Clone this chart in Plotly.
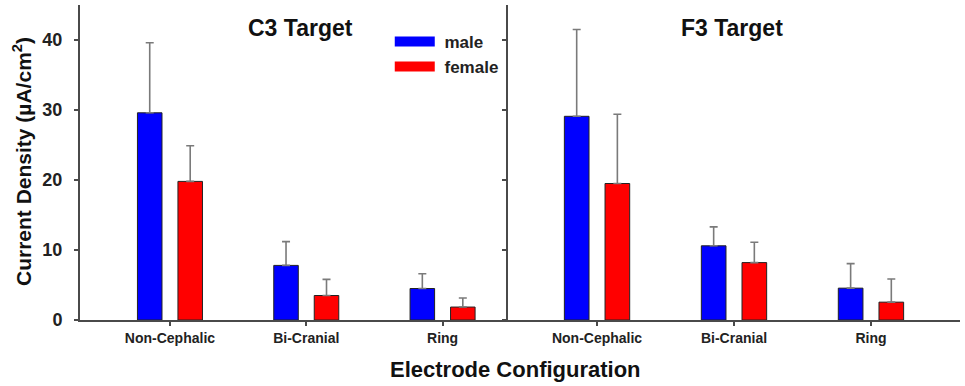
import plotly.graph_objects as go

categories = ["Non-Cephalic", "Bi-Cranial", "Ring"]
c3_male = [29.6, 7.8, 4.5]
c3_male_err = [10.0, 3.4, 2.1]
c3_female = [19.8, 3.5, 1.85]
c3_female_err = [5.1, 2.3, 1.3]
f3_male = [29.1, 10.6, 4.55]
f3_male_err = [12.4, 2.7, 3.5]
f3_female = [19.5, 8.2, 2.55]
f3_female_err = [9.9, 2.9, 3.3]
y_ticks = [0, 10, 20, 30, 40]

BLUE = "#0000FF"
RED = "#FF0000"
ERR = "#7a7a7a"
AX = "#4a4a4a"
FONT = "Liberation Sans, Arial, sans-serif"

fig = go.Figure()

def add_bar(y, err, color, xa, ya):
    fig.add_trace(go.Bar(
        x=categories, y=y, xaxis=xa, yaxis=ya, showlegend=False,
        marker=dict(color=color, line=dict(color="#222222", width=1)),
        error_y=dict(type="data", array=err, arrayminus=[0]*len(err), symmetric=False,
                     color=ERR, thickness=1.6, width=4),
    ))

add_bar(c3_male, c3_male_err, BLUE, "x", "y")
add_bar(c3_female, c3_female_err, RED, "x", "y")
add_bar(f3_male, f3_male_err, BLUE, "x2", "y2")
add_bar(f3_female, f3_female_err, RED, "x2", "y2")

for name, color in [("male", BLUE), ("female", RED)]:
    fig.add_trace(go.Scatter(x=[None], y=[None], mode="lines", name=" " + name,
                             line=dict(color=color, width=12), showlegend=True))

split = (508 - 80) / 880

xcommon = dict(showline=True, linecolor=AX, linewidth=2, ticks="outside", ticklen=4,
               tickcolor=AX, tickwidth=2, showgrid=False, zeroline=False,
               tickfont=dict(family=FONT, size=14, color="#222222", weight="bold"),
               type="category")
ycommon = dict(range=[0, 45], showline=True, linecolor=AX, linewidth=2, ticks="outside",
               ticklen=4, tickcolor=AX, tickwidth=2, showgrid=False, zeroline=False,
               tickvals=y_ticks)

fig.update_layout(
    width=965, height=386,
    margin=dict(l=80, r=5, t=5, b=66, autoexpand=False),
    paper_bgcolor="white", plot_bgcolor="white",
    barmode="group", bargap=0.406, bargroupgap=0.394,
    xaxis=dict(domain=[0, split], range=[-0.66, 2.48], anchor="y", **xcommon),
    xaxis2=dict(domain=[split, 1], range=[-0.65, 2.65], anchor="y2", **xcommon),
    yaxis=dict(anchor="x", ticklabelstandoff=8,
               tickfont=dict(family=FONT, size=18, color="#222222", weight="bold"),
               **ycommon),
    yaxis2=dict(anchor="x2", showticklabels=False, **ycommon),
    legend=dict(x=0.352, y=0.94, xanchor="left", yanchor="top", itemwidth=40,
                bgcolor="rgba(0,0,0,0)", tracegroupgap=0,
                font=dict(family=FONT, size=17, color="#222222", weight="bold")),
    font=dict(family=FONT),
    annotations=[
        dict(text="<b>C3 Target</b>", x=(300 - 80) / 880, y=(320 - 28) / 315,
             xref="paper", yref="paper", showarrow=False, xanchor="center", yanchor="middle",
             font=dict(family=FONT, size=23, color="#111111")),
        dict(text="<b>F3 Target</b>", x=(732 - 80) / 880, y=(320 - 28) / 315,
             xref="paper", yref="paper", showarrow=False, xanchor="center", yanchor="middle",
             font=dict(family=FONT, size=23, color="#111111")),
        dict(text="<b>Electrode Configuration</b>", x=(515 - 80) / 880, y=-(370 - 320) / 315,
             xref="paper", yref="paper", showarrow=False, xanchor="center", yanchor="middle",
             font=dict(family=FONT, size=22, color="#111111")),
        dict(text="<b>Current Density (µA/cm<sup>2</sup>)</b>", x=-(80 - 22) / 880,
             y=(320 - 162) / 315, xref="paper", yref="paper", showarrow=False, textangle=-90,
             xanchor="center", yanchor="middle",
             font=dict(family=FONT, size=21, color="#111111")),
    ],
)

fig.write_html("out.html", config={"displayModeBar": False},
               post_script="document.body.style.margin='0';document.body.style.overflow='hidden';")
